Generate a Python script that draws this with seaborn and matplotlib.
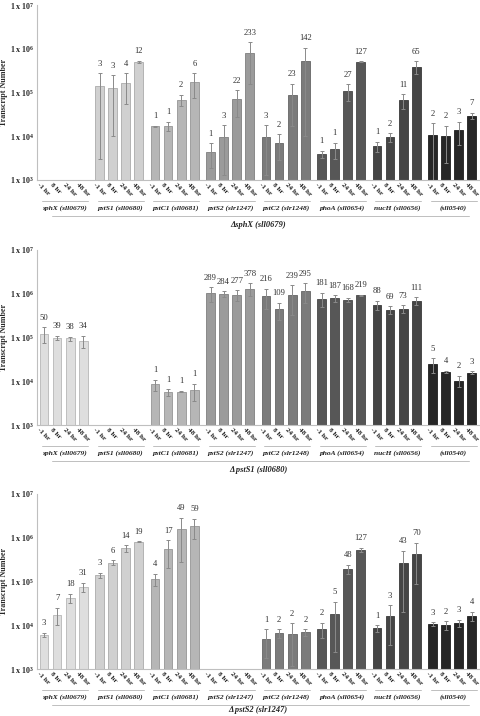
import numpy as np
import pandas as pd
import matplotlib
matplotlib.use("Agg")
import matplotlib.pyplot as plt
from matplotlib.ticker import NullLocator
import seaborn as sns

# ---------------- data ----------------
genes = ["sphX (sll0679)", "pstS1 (sll0680)", "pstC1 (sll0681)", "pstS2 (slr1247)",
         "pstC2 (slr1248)", "phoA (sll0654)", "nucH (sll0656)", "(sll0540)"]
times = ["-1 hr", "8 hr", "24 hr", "48 hr"]
gene_colors = ["#dedede", "#d0d0d0", "#b6b6b6", "#9b9b9b",
               "#7b7b7b", "#575757", "#454545", "#262626"]
mutants = ["\u0394sphX (sll0679)", "\u0394 pstS1 (sll0680)", "\u0394 pstS2 (slr1247)"]

nan = np.nan
# Panel 1: delta sphX
sphx_mean = [[nan, nan, nan, nan],
             [1.39e5, 1.28e5, 1.66e5, 5.0e5],
             [1.69e4, 1.73e4, 6.9e4, 1.75e5],
             [4.4e3, 9.5e3, 7.0e4, 7.8e5],
             [9.5e3, 6.9e3, 8.7e4, 5.3e5],
             [3.9e3, 5.0e3, 1.09e5, 5.07e5],
             [5.9e3, 9.5e3, 6.6e4, 3.9e5],
             [1.05e4, 1.0e4, 1.39e4, 2.95e4]]
sphx_sd = [[nan, nan, nan, nan],
           [1.36e5, 1.18e5, 1.11e5, 3.5e4],
           [5e2, 4.0e3, 2.1e4, 1.0e5],
           [2.5e3, 8.2e3, 4.2e4, 6.2e5],
           [8.2e3, 4.1e3, 7.0e4, 5.2e5],
           [7e2, 2.0e3, 4.5e4, 1.0e4],
           [1.5e3, 2.3e3, 2.5e4, 1.3e5],
           [9.5e3, 7.6e3, 7.5e3, 5.0e3]]
sphx_n = [[None] * 4, [3, 3, 4, 12], [1, 1, 2, 6], [1, 3, 22, 233],
          [3, 2, 23, 142], [1, 1, 27, 127], [1, 2, 11, 65], [2, 2, 3, 7]]

# Panel 2: delta pstS1
psts1_mean = [[1.23e5, 9.8e4, 9.5e4, 8.4e4],
              [nan, nan, nan, nan],
              [8.5e3, 5.6e3, 5.8e3, 6.2e3],
              [1.02e6, 1.0e6, 9.5e5, 1.3e6],
              [8.7e5, 4.4e5, 9.5e5, 1.17e6],
              [7.7e5, 7.8e5, 7.2e5, 9.3e5],
              [5.6e5, 4.3e5, 4.5e5, 6.9e5],
              [2.43e4, 1.63e4, 1.02e4, 1.58e4]]
psts1_sd = [[4.7e4, 1.1e4, 1.0e4, 2.7e4],
            [nan, nan, nan, nan],
            [2.4e3, 9e2, 2e2, 2.6e3],
            [3.7e5, 1.5e5, 2.5e5, 4.3e5],
            [4.2e5, 1.85e5, 6.2e5, 5.6e5],
            [2.8e5, 1.4e5, 8e4, 2e4],
            [1.4e5, 9e4, 9e4, 1.5e5],
            [9e3, 1e3, 3e3, 1e3]]
psts1_n = [[50, 39, 38, 34], [None] * 4, [1, 1, 1, 1], [289, 284, 277, 378],
           [216, 109, 239, 295], [181, 187, 168, 219], [88, 69, 73, 111], [5, 4, 2, 3]]

# Panel 3: delta pstS2
psts2_mean = [[6.1e3, 1.75e4, 4.3e4, 7.6e4],
              [1.39e5, 2.7e5, 5.7e5, 8.2e5],
              [1.15e5, 5.4e5, 1.58e6, 1.85e6],
              [nan, nan, nan, nan],
              [4.9e3, 6.6e3, 6.2e3, 6.9e3],
              [8.2e3, 1.85e4, 1.94e5, 5.25e5],
              [8.5e3, 1.6e4, 2.6e5, 4.3e5],
              [1.07e4, 1.0e4, 1.13e4, 1.66e4]]
psts2_sd = [[6e2, 7.5e3, 1.0e4, 1.8e4],
            [1.8e4, 3.3e4, 1.0e5, 2e4],
            [3.6e4, 3.4e5, 1.3e6, 9e5],
            [nan, nan, nan, nan],
            [3.1e3, 1.4e3, 5.0e3, 1.2e3],
            [3.2e3, 1.6e4, 4.5e4, 6e4],
            [1.4e3, 1.25e4, 2.4e5, 3.4e5],
            [1.1e3, 2.2e3, 2.2e3, 3.8e3]]
psts2_n = [[3, 7, 18, 31], [3, 6, 14, 19], [4, 17, 49, 59], [None] * 4,
           [1, 2, 2, 2], [2, 5, 48, 127], [1, 3, 43, 70], [3, 2, 3, 4]]

ytick_vals = [1e3, 1e4, 1e5, 1e6, 1e7]
ytick_exps = [3, 4, 5, 6, 7]

panels = [(sphx_mean, sphx_sd, sphx_n),
          (psts1_mean, psts1_sd, psts1_n),
          (psts2_mean, psts2_sd, psts2_n)]

# ---------------- style / layout ----------------
sns.set_theme(style="white")
plt.rcParams["font.family"] = ["Liberation Serif", "DejaVu Serif"]
plt.rcParams["mathtext.fontset"] = "custom"
plt.rcParams["mathtext.rm"] = "Liberation Serif"
plt.rcParams["mathtext.bf"] = "Liberation Serif:bold"
plt.rcParams["mathtext.it"] = "Liberation Serif:italic"

W, H = 480, 716
fig = plt.figure(figsize=(W / 100, H / 100), dpi=100)
AX_L, AX_R = 37, 479
PANEL_BOTTOMS = [180, 425, 669]
TITLE_OFFSETS = [45, 45, 41]
PANEL_H = 175
X0, GROUP_STEP, BAR_STEP = 44.0, 55.5, 13.1
AXIS_GREY = "#bfbfbf"

positions = [X0 + g * GROUP_STEP + i * BAR_STEP for g in range(len(genes)) for i in range(len(times))]
palette = dict(zip(genes, gene_colors))
tick_texts = times * len(genes)

for (mean, sd, nlab), bottom, mutant, toff in zip(panels, PANEL_BOTTOMS, mutants, TITLE_OFFSETS):
    ax = fig.add_axes([AX_L / W, 1 - bottom / H, (AX_R - AX_L) / W, PANEL_H / H])
    m = np.ravel(np.array(mean, dtype=float))
    s = np.ravel(np.array(sd, dtype=float))
    labs = [v for row in nlab for v in row]
    df = pd.DataFrame({"pos": positions, "value": m,
                       "gene": np.repeat(genes, len(times))})
    sns.barplot(data=df, x="pos", y="value", hue="gene", hue_order=genes,
                palette=palette, native_scale=True, dodge=False, errorbar=None,
                width=0.66, legend=False, ax=ax, linewidth=0.6, saturation=1)
    ax.set_yscale("log")
    for p in ax.patches:
        fc = np.array(p.get_facecolor()[:3])
        p.set_edgecolor(tuple(fc * 0.82))

    lo = np.minimum(s, m * 0.9999)
    ax.errorbar(positions, m, yerr=[lo, s], fmt="none", ecolor="#8a8a8a",
                elinewidth=0.7, capsize=1.3, capthick=0.7)
    for x, v, e, n in zip(positions, m, s, labs):
        if n is None or np.isnan(v):
            continue
        ax.annotate(str(n), (x, v + e), xytext=(0, 4.0), textcoords="offset points",
                    ha="center", va="bottom", fontsize=6.2, color="#333333")

    ax.set_xlim(AX_L, AX_R)
    ax.set_ylim(1e3, 1e7)
    ax.set_yticks(ytick_vals)
    ax.set_yticklabels([r"$\mathbf{1\ x\ 10^{%d}}$" % k for k in ytick_exps])
    ax.yaxis.set_minor_locator(NullLocator())
    ax.tick_params(axis="y", length=0, pad=2, labelsize=5.8)
    ax.set_xticks(positions)
    ax.set_xticklabels([""] * len(positions))
    ax.tick_params(axis="x", length=0)
    for x, t in zip(positions, tick_texts):
        ax.annotate(t, xy=(x, 0), xycoords=("data", "axes fraction"),
                    xytext=(-3.0, -1.5), textcoords="offset points",
                    rotation=-45, ha="left", va="top", rotation_mode="anchor",
                    fontsize=5.1, fontweight="bold", color="#222222",
                    annotation_clip=False)
    ax.set_xlabel("")
    ax.set_ylabel("Transcript Number", fontsize=5.8, fontweight="bold")
    ax.yaxis.set_label_coords(-29 / (AX_R - AX_L), 0.5)
    for side in ["top", "right"]:
        ax.spines[side].set_visible(False)
    for side in ["left", "bottom"]:
        ax.spines[side].set_color(AXIS_GREY)
        ax.spines[side].set_linewidth(0.8)
    ax.grid(False)

    trans = ax.get_xaxis_transform()
    for g, name in enumerate(genes):
        x1 = positions[g * 4] - 2
        x2 = positions[g * 4 + 3] + 5
        ax.plot([x1, x2], [-21 / PANEL_H] * 2, transform=trans, color=AXIS_GREY,
                lw=0.7, clip_on=False)
        ax.text((positions[g * 4] + positions[g * 4 + 3]) / 2 + 1, -28.5 / PANEL_H, name,
                transform=trans, ha="center", va="center", fontsize=5.4,
                fontweight="bold", fontstyle="italic", color="#222222")
    ax.plot([52, 469], [-36 / PANEL_H] * 2, transform=trans, color=AXIS_GREY,
            lw=0.7, clip_on=False)
    ax.text(258, -toff / PANEL_H, mutant, transform=trans, ha="center", va="center",
            fontsize=6, fontweight="bold", fontstyle="italic", color="#222222")

fig.savefig("out.png", dpi=100)
